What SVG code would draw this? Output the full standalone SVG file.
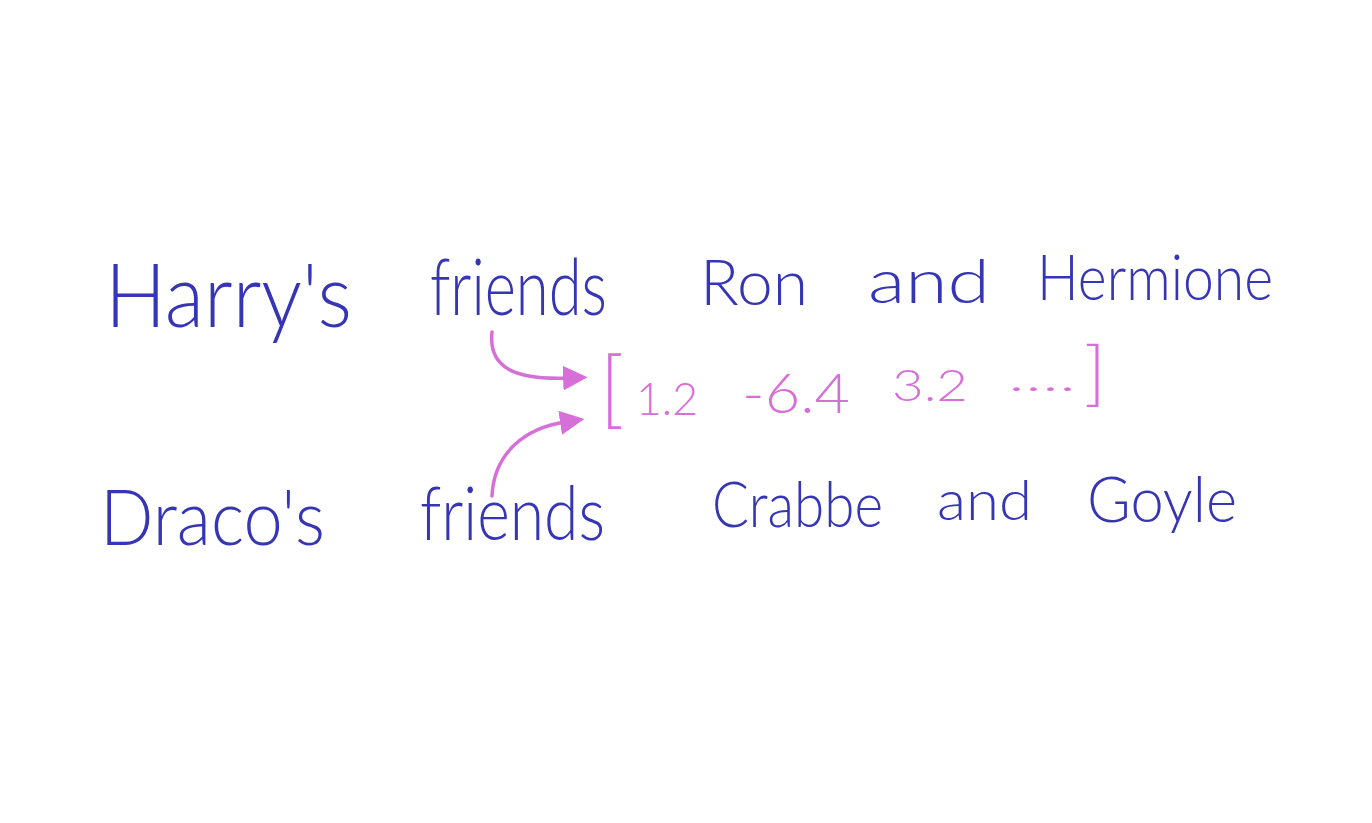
<svg xmlns="http://www.w3.org/2000/svg" width="1372" height="823" viewBox="0 0 1372 823">
<style>
.b{fill:#3535b5;font-family:Lato,"Liberation Sans",sans-serif;font-weight:300}
.p{fill:#d66fd8;font-family:Lato,"Liberation Sans",sans-serif;font-weight:300}
.c{fill:none;stroke:#d66fd8;stroke-width:3.5;stroke-linecap:round}
</style>
<defs>
<marker id="ah" viewBox="0 0 10 10" refX="2" refY="5" markerWidth="7" markerHeight="7" markerUnits="strokeWidth" orient="auto">
<path d="M0,0 L10,5 L0,10 z" fill="#d66fd8"/>
</marker>
</defs>
<rect width="1372" height="823" fill="#ffffff"/>
<g id="line1">
<text class="b" x="105" y="327" font-size="88" textLength="247" lengthAdjust="spacingAndGlyphs">Harry's</text>
<text class="b" x="430" y="315" font-size="78" textLength="177" lengthAdjust="spacingAndGlyphs">friends</text>
<text class="b" x="700" y="305" font-size="64" textLength="108" lengthAdjust="spacingAndGlyphs">Ron</text>
<text class="b" x="868" y="303" font-size="62" textLength="122" lengthAdjust="spacingAndGlyphs">and</text>
<text class="b" x="1037" y="300" font-size="64" textLength="236" lengthAdjust="spacingAndGlyphs">Hermione</text>
</g>
<g id="vector">
<text class="p" x="600" y="418" font-size="84" textLength="24" lengthAdjust="spacingAndGlyphs">[</text>
<text class="p" x="636" y="415" font-size="46" textLength="62" lengthAdjust="spacingAndGlyphs">1.2</text>
<text class="p" x="742" y="413" font-size="56" textLength="108" lengthAdjust="spacingAndGlyphs">-6.4</text>
<text class="p" x="892" y="401" font-size="44" textLength="76" lengthAdjust="spacingAndGlyphs">3.2</text>
<text class="p" x="1008" y="391" font-size="40" textLength="68" lengthAdjust="spacingAndGlyphs">....</text>
<text class="p" x="1084" y="398" font-size="70" textLength="22" lengthAdjust="spacingAndGlyphs">]</text>
</g>
<g id="line2">
<text class="b" x="100" y="545" font-size="76" textLength="225" lengthAdjust="spacingAndGlyphs">Draco's</text>
<text class="b" x="420" y="540" font-size="74" textLength="185" lengthAdjust="spacingAndGlyphs">friends</text>
<text class="b" x="712" y="527" font-size="64" textLength="171" lengthAdjust="spacingAndGlyphs">Crabbe</text>
<text class="b" x="937" y="520" font-size="56" textLength="95" lengthAdjust="spacingAndGlyphs">and</text>
<text class="b" x="1087" y="522" font-size="64" textLength="150" lengthAdjust="spacingAndGlyphs">Goyle</text>
</g>
<g id="connectors">
<path class="c" d="M492,332 C488,368 515,380 568,378" marker-end="url(#ah)"/>
<path class="c" d="M492,496 C494,452 526,428 565,422" marker-end="url(#ah)"/>
</g>
</svg>
